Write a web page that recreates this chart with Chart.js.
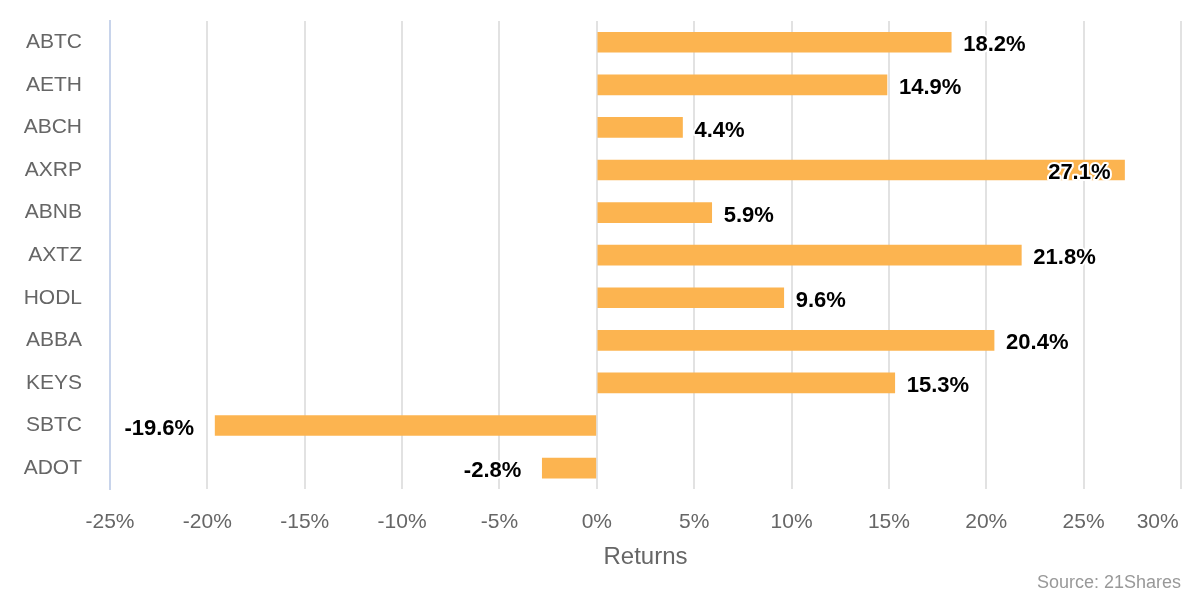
<!DOCTYPE html>
<html>
<head>
<meta charset="utf-8">
<script src="https://cdn.jsdelivr.net/npm/chart.js@4/dist/chart.umd.min.js"></script>
<style>
  html, body { margin: 0; padding: 0; background: #fff; }
  #wrap { width: 1200px; height: 600px; }
</style>
</head>
<body>
<div id="wrap"><canvas id="myChart"></canvas></div>
<script>
// Returns by product (%)
const tickers = ['ABTC', 'AETH', 'ABCH', 'AXRP', 'ABNB', 'AXTZ', 'HODL', 'ABBA', 'KEYS', 'SBTC', 'ADOT'];
const returns = [18.2, 14.9, 4.4, 27.1, 5.9, 21.8, 9.6, 20.4, 15.3, -19.6, -2.8];

const xMin = -25;
const xMax = 30;
const xStep = 5;

const barColor = 'rgb(252,180,80)';
const fontFamily = '"Liberation Sans", Arial, Helvetica, sans-serif';

// value labels next to each bar end
const valueLabels = {
  id: 'valueLabels',
  afterDatasetsDraw(chart) {
    const ctx = chart.ctx;
    const meta = chart.getDatasetMeta(0);
    const area = chart.chartArea;
    ctx.save();
    ctx.font = 'bold 22px ' + fontFamily;
    ctx.textBaseline = 'middle';
    ctx.lineJoin = 'round';
    ctx.lineWidth = 4;
    ctx.strokeStyle = '#fff';
    ctx.fillStyle = '#000';
    meta.data.forEach((bar, i) => {
      const v = returns[i];
      const txt = v.toFixed(1) + '%';
      const w = ctx.measureText(txt).width;
      let x, align;
      if (v >= 0) {
        x = bar.x + 12;
        align = 'left';
        if (x + w > area.right - 2) { x = bar.x - 14; align = 'right'; }
      } else {
        x = bar.x - 21;
        align = 'right';
      }
      ctx.textAlign = align;
      const y = bar.y + 3;
      ctx.strokeText(txt, x, y);
      ctx.fillText(txt, x, y);
    });
    ctx.restore();
  }
};

document.addEventListener('DOMContentLoaded', function () {
  const config = {
    type: 'bar',
    data: {
      labels: tickers,
      datasets: [{
        data: returns,
        backgroundColor: barColor,
        borderWidth: 0,
        barThickness: 20,
      }]
    },
    options: {
      indexAxis: 'y',
      responsive: true,
      maintainAspectRatio: false,
      animation: false,
      layout: {
        padding: { left: 0, right: 19, top: 21, bottom: 0 },
      },
      plugins: {
        legend: { display: false },
        tooltip: { enabled: false },
        title: {
          display: true,
          text: 'Source: 21Shares',
          position: 'bottom',
          align: 'end',
          color: '#999',
          font: { family: fontFamily, size: 18, weight: 'normal' },
          padding: { top: 1, bottom: 6 },
        },
      },
      scales: {
        x: {
          type: 'linear',
          min: xMin,
          max: xMax,
          ticks: {
            stepSize: xStep,
            color: '#666',
            padding: 20,
            maxRotation: 0,
            font: { family: fontFamily, size: 21 },
            // last label is nudged left so it stays inside the canvas
            callback: function (val) { return val === xMax ? val + '%        ' : val + '%'; }
          },
          grid: {
            color: '#e2e2e2',
            lineWidth: 2,
            drawTicks: false,
          },
          border: { display: false },
          title: {
            display: true,
            text: 'Returns',
            color: '#666',
            font: { family: fontFamily, size: 24 },
            padding: { top: -12, bottom: 0 },
          },
          afterFit: function (scale) { scale.paddingRight = 0; },
        },
        y: {
          ticks: {
            color: '#666',
            padding: 28,
            font: { family: fontFamily, size: 21 },
          },
          grid: { display: false, drawTicks: false },
          border: { display: true, color: 'rgb(200,212,235)', width: 2 },
          afterFit: function (scale) {
            scale.width = 110;
            scale.paddingTop = 0;
            scale.paddingBottom = 0;
          },
        }
      }
    },
    plugins: [valueLabels]
  };

  const ctx = document.getElementById('myChart').getContext('2d');
  new Chart(ctx, config);
});
</script>
</body>
</html>
